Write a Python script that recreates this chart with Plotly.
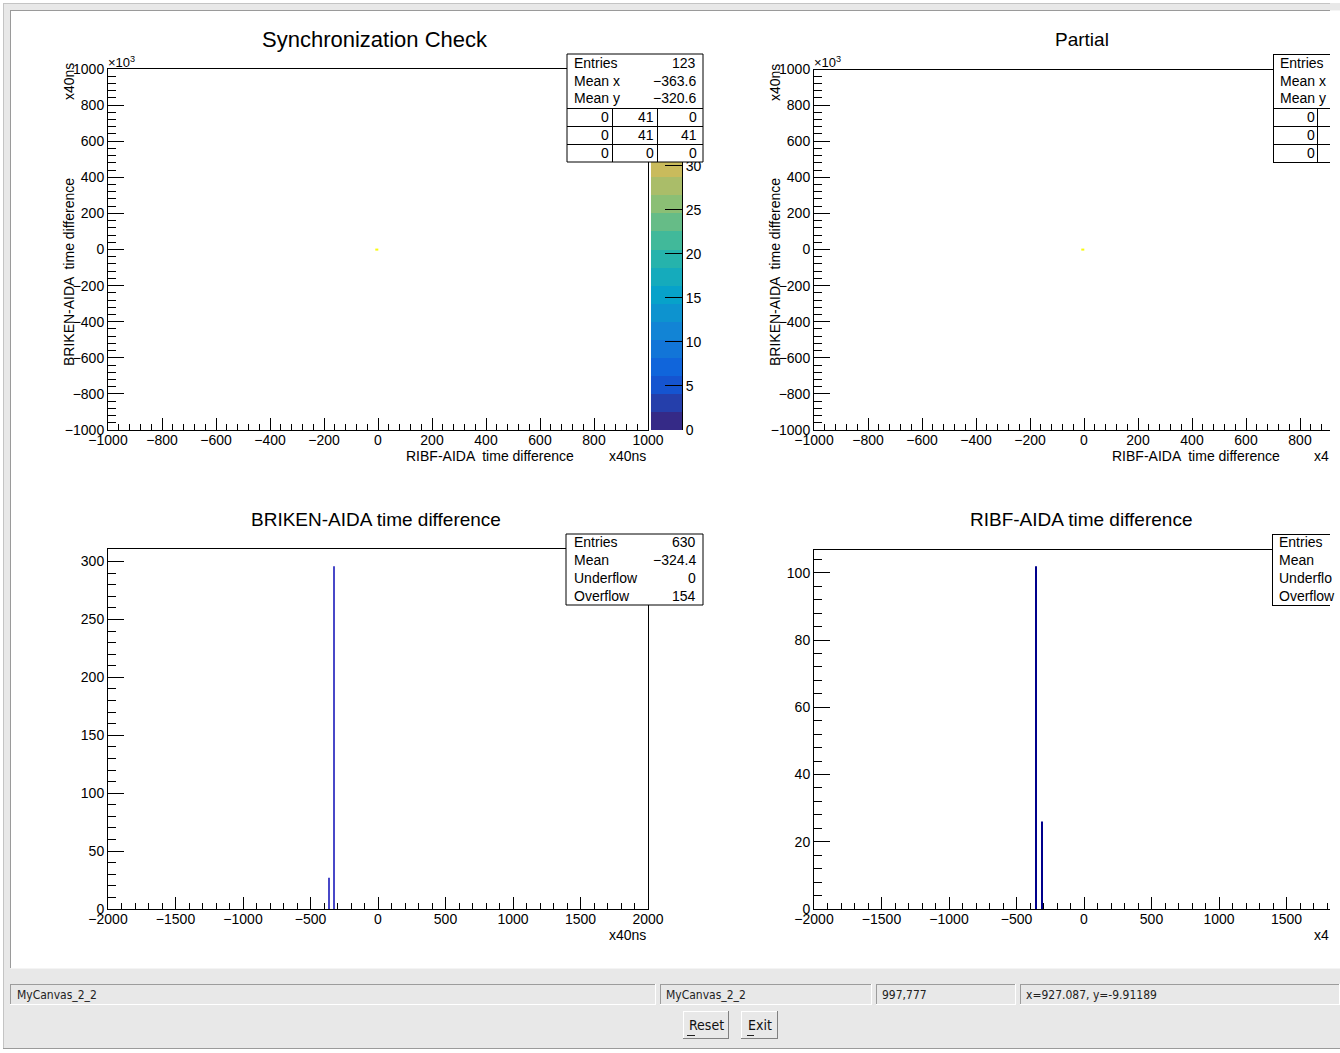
import plotly.graph_objects as go

W, H = 1340, 1053
def px(x): return x / W
def py(y): return 1 - y / H

FONT = "Liberation Sans, Arial, Helvetica, sans-serif"
NARROW = "Liberation Sans Narrow, DejaVu Sans Condensed, Liberation Sans, sans-serif"

# ---------------- data ----------------
# 2D histograms: one filled cell (bin edges) and its content
sync_bin_x = [-10, 0]
sync_bin_y = [-5, 5]
sync_content = [[41]]
partial_bin_x = [-10, 0]
partial_bin_y = [-5, 5]
partial_content = [[41]]
z_max = 41
palette_levels = 20
palette_ticks = [0, 5, 10, 15, 20, 25, 30]

# 1D histograms (bin centres, counts)
briken_centers = [-365, -325]
briken_counts = [27, 296]
briken_binw = 10
ribf_centers = [-358, -314]
ribf_counts = [102, 26]
ribf_binw = 8

# axis ranges / ticks
range2d = [-1000, 1000]
ticks2d = list(range(-1000, 1001, 200))
range1d_x = [-2000, 2000]
ticks1d_x = list(range(-2000, 2001, 500))
briken_ymax = 310.8
briken_yticks = list(range(0, 301, 50))
ribf_ymax = 107.1
ribf_yticks = list(range(0, 101, 20))

# stats
sync_stats = [("Entries", "123"), ("Mean x", "\u2212363.6"), ("Mean y", "\u2212320.6")]
sync_grid = [["0", "41", "0"], ["0", "41", "41"], ["0", "0", "0"]]
partial_stats_labels = ["Entries", "Mean x", "Mean y"]
partial_grid_first = ["0", "0", "0"]
briken_stats = [("Entries", "630"), ("Mean", "\u2212324.4"), ("Underflow", "0"), ("Overflow", "154")]
ribf_stats_labels = ["Entries", "Mean", "Underflo", "Overflow"]

# ---------------- palette (ROOT kBird) ----------------
stops = [0.0, 0.125, 0.25, 0.375, 0.5, 0.625, 0.75, 0.875, 1.0]
red = [0.2082, 0.0592, 0.0780, 0.0232, 0.1802, 0.5301, 0.8186, 0.9956, 0.9764]
green = [0.1664, 0.3599, 0.5041, 0.6419, 0.7178, 0.7492, 0.7328, 0.7862, 0.9832]
blue = [0.5293, 0.8684, 0.8385, 0.7914, 0.6425, 0.4662, 0.3499, 0.1968, 0.0539]

def bird(t):
    for i in range(len(stops) - 1):
        if stops[i] <= t <= stops[i + 1]:
            f = (t - stops[i]) / (stops[i + 1] - stops[i])
            r = red[i] + f * (red[i + 1] - red[i])
            g = green[i] + f * (green[i + 1] - green[i])
            b = blue[i] + f * (blue[i + 1] - blue[i])
            return "rgb(%d,%d,%d)" % (round(r * 255), round(g * 255), round(b * 255))
    return "rgb(249,251,14)"

level_colors = [bird(i / (palette_levels - 1)) for i in range(palette_levels)]
dscale = []
for i, c in enumerate(level_colors):
    dscale.append([i / palette_levels, c])
    dscale.append([(i + 1) / palette_levels, c])

fig = go.Figure()

# 2D plots
fig.add_trace(go.Heatmap(x=sync_bin_x, y=sync_bin_y, z=sync_content, colorscale=dscale,
                         zmin=0, zmax=z_max, showscale=False, xaxis="x", yaxis="y", hoverinfo="skip"))
fig.add_trace(go.Heatmap(x=partial_bin_x, y=partial_bin_y, z=partial_content, colorscale=dscale,
                         zmin=0, zmax=z_max, showscale=False, xaxis="x3", yaxis="y3", hoverinfo="skip"))
# palette (colour bar)
pal_edges = [i * z_max / palette_levels for i in range(palette_levels + 1)]
fig.add_trace(go.Heatmap(x=[0, 1], y=pal_edges, z=[[i] for i in range(palette_levels)],
                         colorscale=dscale, zmin=-0.5, zmax=palette_levels - 0.5,
                         showscale=False, xaxis="x2", yaxis="y2", hoverinfo="skip"))
# 1D histograms
fig.add_trace(go.Bar(x=briken_centers, y=briken_counts, width=briken_binw,
                     marker=dict(color="#4848c8", line=dict(width=0)), xaxis="x4", yaxis="y4"))
fig.add_trace(go.Bar(x=ribf_centers, y=ribf_counts, width=ribf_binw,
                     marker=dict(color="#00008c", line=dict(width=0)), xaxis="x5", yaxis="y5"))

tickfont = dict(family=FONT, size=14, color="black")

def xax(dom, rng, vals, minor, anchor, mirror=True):
    return dict(domain=[px(dom[0]), px(dom[1])], range=rng, tickvals=vals, ticks="inside",
                ticklen=12, tickcolor="black", tickwidth=1, automargin=False,
                ticklabelstandoff=-3,
                minor=dict(dtick=minor, tick0=0, ticks="inside", ticklen=6, tickcolor="black"),
                showline=True, linecolor="black", linewidth=1, mirror=mirror,
                showgrid=False, zeroline=False, anchor=anchor, tickfont=tickfont, fixedrange=True)

def yax(dom, rng, vals, minor, anchor, mirror=True):
    return dict(domain=[py(dom[1]), py(dom[0])], range=rng, tickvals=vals, ticks="inside",
                ticklen=16, tickcolor="black", tickwidth=1, automargin=False,
                minor=dict(dtick=minor, tick0=0, ticks="inside", ticklen=8, tickcolor="black"),
                showline=True, linecolor="black", linewidth=1, mirror=mirror,
                showgrid=False, zeroline=False, anchor=anchor, tickfont=tickfont, fixedrange=True)

R_END = 1330
tr_range = [-1000, -1000 + 2000 * (R_END - 814) / 540]
br_range = [-2000, -2000 + 4000 * (R_END - 814) / 540]

layout = dict(
    width=W, height=H, margin=dict(l=0, r=0, t=0, b=0, pad=0, autoexpand=False),
    paper_bgcolor="white", plot_bgcolor="rgba(0,0,0,0)", showlegend=False,
    xaxis=xax((108, 648), range2d, ticks2d, 40, "y"),
    yaxis=yax((69, 430), range2d, ticks2d, 40, "x"),
    xaxis2=dict(domain=[px(651), px(682)], range=[0, 1], visible=False, anchor="y2",
                fixedrange=True, automargin=False),
    yaxis2=dict(domain=[py(430), py(69)], range=[0, z_max], side="right", anchor="x2",
                tickvals=palette_ticks, ticks="inside", ticklen=17, tickcolor="black",
                showline=True, linecolor="black", linewidth=1, showgrid=False, zeroline=False,
                tickfont=tickfont, fixedrange=True, automargin=False),
    xaxis3=xax((814, R_END), tr_range, ticks2d, 40, "y3", mirror=False),
    yaxis3=yax((69, 430), range2d, ticks2d, 40, "x3", mirror=False),
    xaxis4=xax((108, 648), range1d_x, ticks1d_x, 100, "y4"),
    yaxis4=yax((549, 909), [0, briken_ymax], briken_yticks, 10, "x4"),
    xaxis5=xax((814, R_END), br_range, ticks1d_x, 100, "y5", mirror=False),
    yaxis5=yax((549, 909), [0, ribf_ymax], ribf_yticks, 4, "x5", mirror=False),
)

shapes = []
def rect(x0, y0, x1, y1, fill=None, line=None, lw=1, layer="below"):
    shapes.append(dict(type="rect", xref="paper", yref="paper", x0=px(x0), x1=px(x1), y0=py(y1), y1=py(y0),
                       fillcolor=fill if fill else "rgba(0,0,0,0)",
                       line=dict(color=line if line else "rgba(0,0,0,0)", width=lw if line else 0),
                       layer=layer))
def hline(x0, x1, y, color="black", lw=1, layer="below"):
    shapes.append(dict(type="line", xref="paper", yref="paper", x0=px(x0), x1=px(x1), y0=py(y), y1=py(y),
                       line=dict(color=color, width=lw), layer=layer))
def vline(x, y0, y1, color="black", lw=1, layer="below"):
    shapes.append(dict(type="line", xref="paper", yref="paper", x0=px(x), x1=px(x), y0=py(y0), y1=py(y1),
                       line=dict(color=color, width=lw), layer=layer))

# window chrome
rect(3, 3, 1340, 1049, fill="#e8e8e8")
rect(10.5, 10.5, 1340, 968.5, fill="white")
hline(3, R_END, 3.5, "#c4c4c4")
vline(3.5, 3, 1049, "#c4c4c4")
hline(10, R_END, 10.5, "#9a9a9a")
vline(10.5, 10, 968, "#9a9a9a")
hline(3, 1340, 1048.5, "#9a9a9a")
# status fields (sunken)
for (a, b) in [(10, 656), (660, 872), (876, 1016), (1020, 1340)]:
    hline(a, b, 984.5, "#9c9c9c")
    vline(a + 0.5, 984, 1004, "#9c9c9c")
    hline(a, b, 1004.5, "white")
    vline(b - 0.5, 984, 1004, "white")
# buttons (raised)
for (a, b) in [(683, 729), (741, 778)]:
    hline(a, b, 1011.5, "white")
    vline(a + 0.5, 1011, 1039, "white")
    hline(a, b, 1038.5, "#808080")
    vline(b - 0.5, 1011, 1039, "#808080")
hline(687, 695, 1035.5, "#202020")
hline(747, 754, 1035.5, "#202020")

# top line of right-hand frames (right side clipped)
hline(814, R_END, 69.5, layer="above")
hline(814, R_END, 549.5, layer="above")

# stats boxes
rect(567, 54, 703, 162, fill="white", line="black", layer="above")
for yy in (108, 126, 144):
    hline(567, 703, yy + 0.5, layer="above")
for xx in (612, 657):
    vline(xx + 0.5, 108, 162, layer="above")
rect(566, 534, 703, 605, fill="white", line="black", layer="above")

# clipped right boxes
rect(1273, 54, R_END, 162, fill="white", layer="above")
for yy in (54, 108, 126, 144, 162):
    hline(1273, R_END, yy + 0.5, layer="above")
vline(1273.5, 54, 162, layer="above")
vline(1317.5, 108, 162, layer="above")
rect(1272, 534, R_END, 605, fill="white", layer="above")
for yy in (534, 605):
    hline(1272, R_END, yy + 0.5, layer="above")
vline(1272.5, 534, 605, layer="above")

ann = []
def txt(text, x, y, size=14, xanchor="center", yanchor="middle", angle=0, family=FONT, color="black"):
    ann.append(dict(text=text, x=px(x), y=py(y), xref="paper", yref="paper", showarrow=False,
                    xanchor=xanchor, yanchor=yanchor, textangle=angle, borderpad=0,
                    font=dict(family=family, size=size, color=color)))

# titles
txt("Synchronization Check", 375, 40, size=22)
txt("Partial", 1082, 40, size=19)
txt("BRIKEN-AIDA time difference", 376, 519, size=19)
txt("RIBF-AIDA time difference", 1081, 519, size=19)

# axis titles
for off in (0, 706):
    txt("\u00d710<sup>3</sup>", 107 + off, 62, size=13, xanchor="left")
    txt("x40ns", 69 + off, 82, angle=-90)
    txt("BRIKEN-AIDA  time difference", 69 + off, 272, angle=-90)
    txt("RIBF-AIDA  time difference", 490 + off, 456)
txt("x40ns", 647, 456, xanchor="right")
txt("x40ns", 647, 935, xanchor="right")
txt("x4", 1313, 456, xanchor="left")
txt("x4", 1313, 935, xanchor="left")

# stats text
for i, (lab, val) in enumerate(sync_stats):
    txt(lab, 573, 63 + 17.5 * i, xanchor="left")
    txt(val, 697, 63 + 17.5 * i, xanchor="right")
cell_right = [610, 655, 698]
for r, row in enumerate(sync_grid):
    for c, v in enumerate(row):
        txt(v, cell_right[c], 117 + 18 * r, xanchor="right")
for i, lab in enumerate(partial_stats_labels):
    txt(lab, 1279, 63 + 17.5 * i, xanchor="left")
for r, v in enumerate(partial_grid_first):
    txt(v, 1316, 117 + 18 * r, xanchor="right")
for i, (lab, val) in enumerate(briken_stats):
    txt(lab, 573, 542 + 18 * i, xanchor="left")
    txt(val, 697, 542 + 18 * i, xanchor="right")
for i, lab in enumerate(ribf_stats_labels):
    txt(lab, 1278, 542 + 18 * i, xanchor="left")

# status bar
txt("MyCanvas_2_2", 16, 994.5, size=12, xanchor="left", family=NARROW, color="#222")
txt("MyCanvas_2_2", 665, 994.5, size=12, xanchor="left", family=NARROW, color="#222")
txt("997,777", 881, 994.5, size=12, xanchor="left", family=NARROW, color="#222")
txt("x=927.087, y=-9.91189", 1025, 994.5, size=12, xanchor="left", family=NARROW, color="#222")
txt("Reset", 706, 1025, size=14, family=NARROW, color="#111")
txt("Exit", 759.5, 1025, size=14, family=NARROW, color="#111")

layout["shapes"] = shapes
layout["annotations"] = ann
fig.update_layout(**layout)
fig.write_html("out.html", config={"displayModeBar": False},
               post_script="document.body.style.margin='0';document.body.style.overflow='hidden';")
